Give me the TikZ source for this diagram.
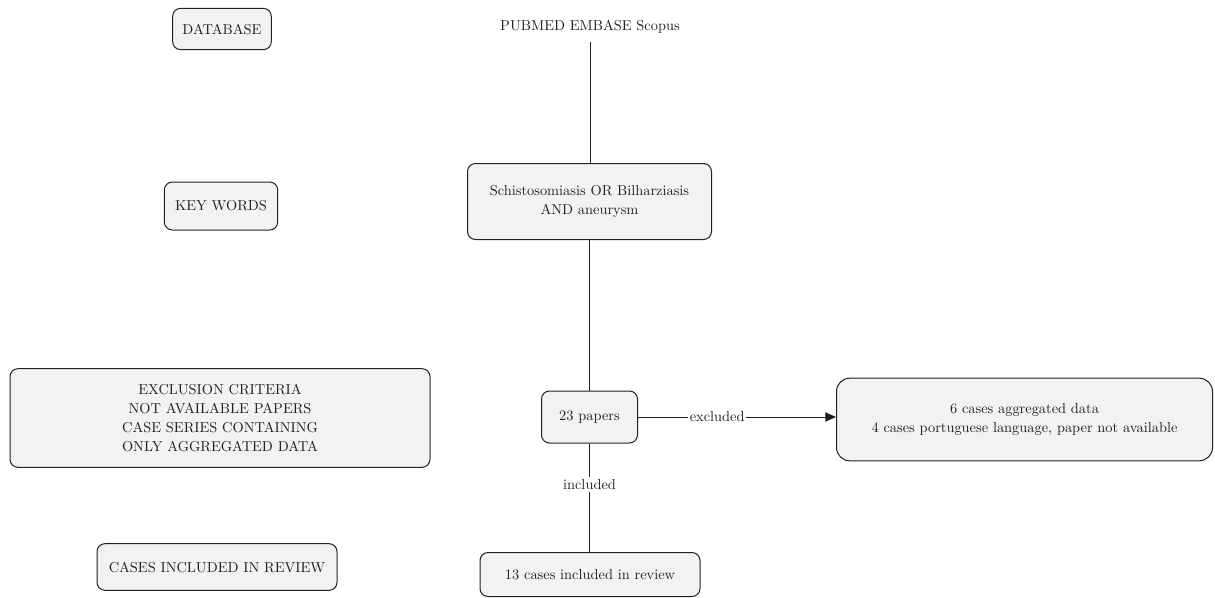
\documentclass[tikz,border=0pt]{standalone}
\usepackage{xcolor}
\usepackage{tikz}
\usetikzlibrary{arrows.meta,positioning}
\definecolor{boxFill}{RGB}{241,242,242}
\definecolor{boxLine}{RGB}{35,31,32}

\tikzset{
    stagebox/.style={draw=boxLine, fill=boxFill, line width=0.75pt, rounded corners=6pt,
        align=center, inner sep=2pt},
    flowline/.style={draw=boxLine, line width=0.7pt},
    every node/.style={font=\fontsize{10.8}{14.25}\selectfont, text=boxLine},
}

\begin{document}
\begin{tikzpicture}[x=0.75pt,y=-0.75pt]
    \useasboundingbox (0,0) rectangle (1215,597);

    % left column
    \node[stagebox, minimum width=74pt, minimum height=31pt] (database) at (222,29) {DATABASE};
    \node[stagebox, minimum width=85pt, minimum height=36pt] (keywords) at (221,206) {KEY WORDS};
    \node[stagebox, minimum width=315pt, minimum height=74pt] (criteria) at (220,418)
        {EXCLUSION CRITERIA\\NOT AVAILABLE PAPERS\\CASE SERIES CONTAINING\\ONLY AGGREGATED DATA};
    \node[stagebox, minimum width=180pt, minimum height=35pt] (review) at (217,567) {CASES INCLUDED IN REVIEW};

    % flow
    \node (sources) at (590,27) {PUBMED EMBASE Scopus};
    \node[stagebox, minimum width=183pt, minimum height=57pt] (query) at (589.5,201.5)
        {Schistosomiasis OR Bilharziasis\\AND aneurysm};
    \node[stagebox, minimum width=72pt, minimum height=39pt] (papers) at (589.5,417) {23 papers};
    \node[stagebox, rounded corners=10pt, minimum width=282pt, minimum height=62pt] (dropped) at (1024.5,419.5)
        {6 cases aggregated data\\4 cases portuguese language, paper not available};
    \node[stagebox, minimum width=165pt, minimum height=33pt] (final) at (590,574.5) {13 cases included in review};
    \coordinate (sourcesEnd) at (590,42);

    \draw[flowline] (sourcesEnd) -- (query.north -| sourcesEnd);
    \draw[flowline] (query.south -| papers.north) -- (papers.north);
    \draw[flowline, -{Triangle[length=8pt,width=7pt]}] (papers.east) -- (dropped.west |- papers.east)
        node[pos=0.4, fill=white, inner sep=1pt] {excluded};
    \draw[flowline] (papers.south) -- (final.north -| papers.south)
        node[pos=0.38, fill=white, inner sep=2pt] {included};
\end{tikzpicture}
\end{document}
